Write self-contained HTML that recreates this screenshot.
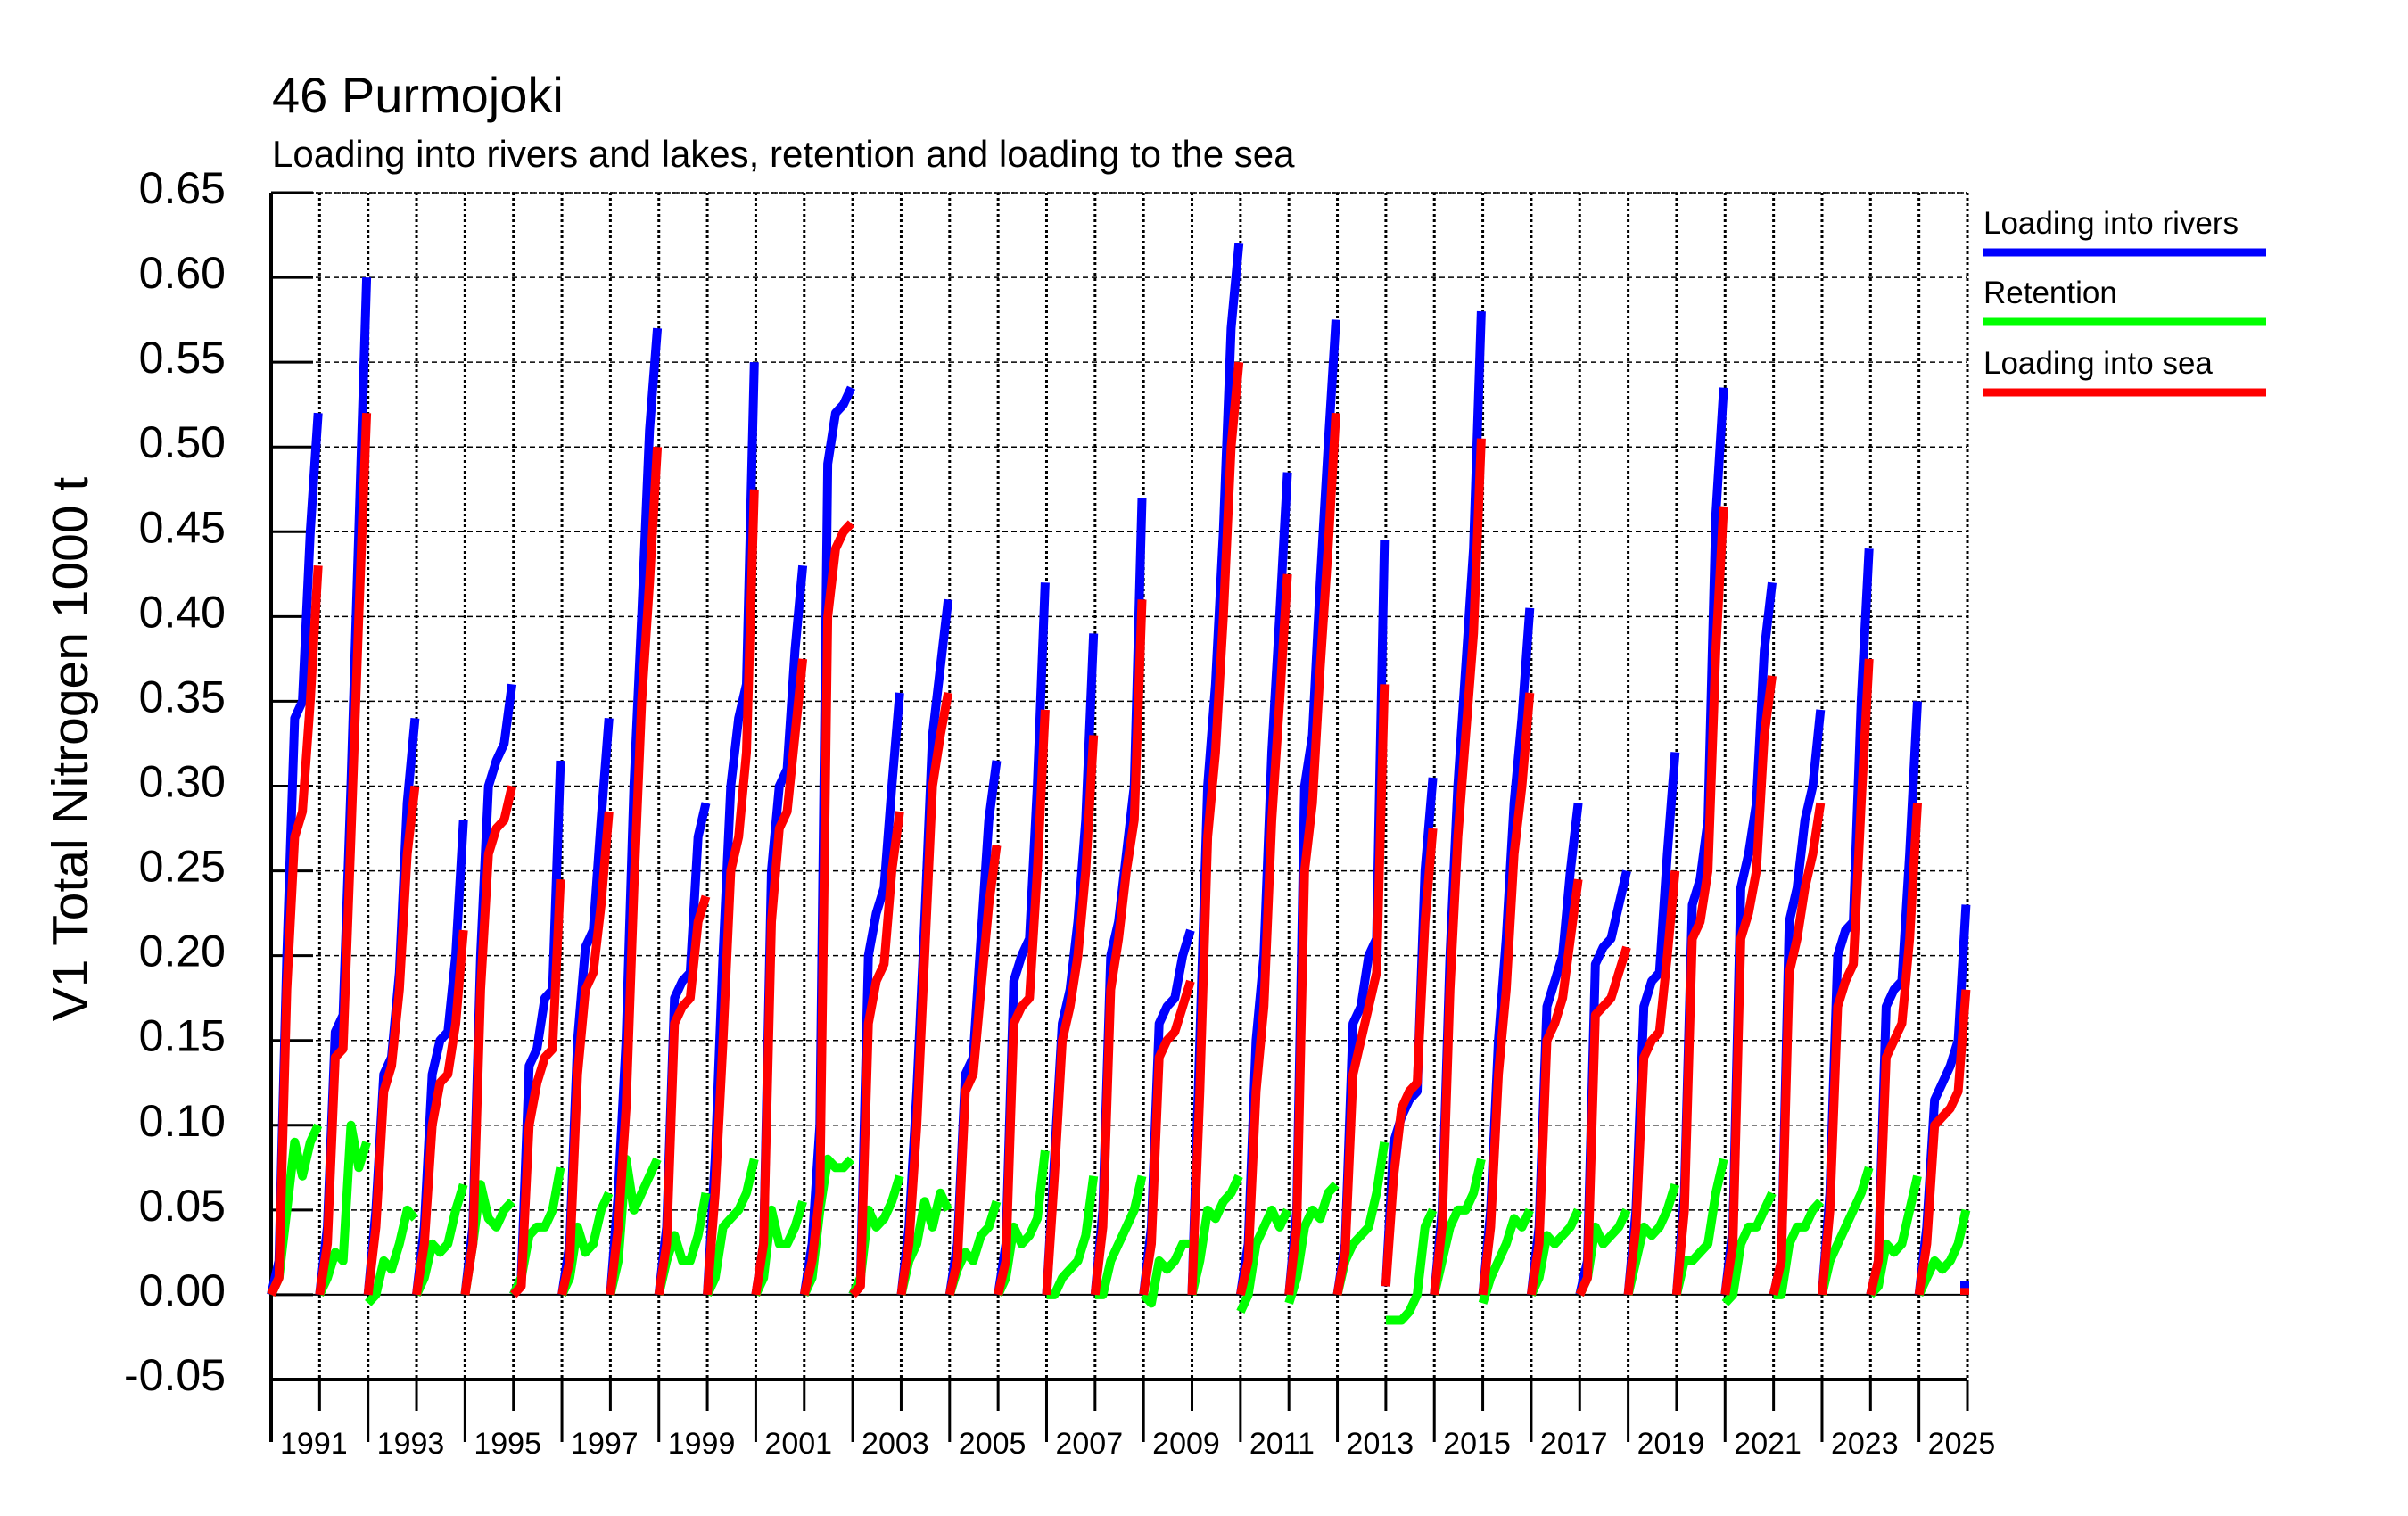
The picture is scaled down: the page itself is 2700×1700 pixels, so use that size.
<!DOCTYPE html>
<html><head><meta charset="utf-8"><style>
html,body{margin:0;padding:0;background:#fff;}
svg{display:block;font-family:"Liberation Sans",sans-serif;}
</style></head><body>
<svg id="chart" width="2700" height="1700" viewBox="0 0 2700 1700" xmlns="http://www.w3.org/2000/svg">
<text x="305" y="126" font-size="56">46 Purmojoki</text>
<text x="305" y="187" font-size="42">Loading into rivers and lakes, retention and loading to the sea</text>
<text transform="translate(98,840) rotate(-90)" text-anchor="middle" font-size="57">V1 Total Nitrogen 1000 t</text>
<g id="grid"></g>
<g id="axes"></g>
<g id="series"></g>
<g>
<text x="2224" y="262" font-size="35">Loading into rivers</text>
<line x1="2224" y1="283" x2="2541" y2="283" stroke="#0000ff" stroke-width="9"/>
<text x="2224" y="340" font-size="35">Retention</text>
<line x1="2224" y1="361" x2="2541" y2="361" stroke="#00ff00" stroke-width="9"/>
<text x="2224" y="419" font-size="35">Loading into sea</text>
<line x1="2224" y1="440" x2="2541" y2="440" stroke="#ff0000" stroke-width="9"/>
</g>
</svg>
<script>
const years = [1990,1991,1992,1993,1994,1995,1996,1997,1998,1999,2000,2001,2002,2003,2004,2005,2006,2007,2008,2009,2010,2011,2012,2013,2014,2015,2016,2017,2018,2019,2020,2021,2022,2023,2024];
const yearFractions = [0,1/6,2/6,3/6,4/6,5/6,1];
const yTicks = [-0.05,0,0.05,0.1,0.15,0.2,0.25,0.3,0.35,0.4,0.45,0.5,0.55,0.6,0.65];
const yTickLabels = ["-0.05","0.00","0.05","0.10","0.15","0.20","0.25","0.30","0.35","0.40","0.45","0.50","0.55","0.60","0.65"];
const xLabelYears = [1991,1993,1995,1997,1999,2001,2003,2005,2007,2009,2011,2013,2015,2017,2019,2021,2023,2025];
const lastYearRivers = [0.008];
const lastYearSea = [0.004];
const riversLoad = [
[0,0.02,0.2,0.34,0.35,0.45,0.52],[0,0.04,0.155,0.165,0.3,0.45,0.6],[0,0.05,0.13,0.14,0.19,0.29,0.34],[0,0.04,0.13,0.15,0.155,0.2,0.28],
[0,0.04,0.2,0.3,0.315,0.325,0.36],[0,0.01,0.135,0.145,0.175,0.18,0.315],[0,0.03,0.15,0.205,0.215,0.28,0.34],[0,0.06,0.15,0.3,0.4,0.51,0.57],
[0,0.04,0.175,0.185,0.19,0.27,0.29],[0,0.08,0.2,0.3,0.34,0.36,0.55],[0,0.03,0.25,0.3,0.31,0.38,0.43],[0,0.03,0.1,0.49,0.52,0.525,0.535],
[0,0.01,0.2,0.225,0.24,0.3,0.355],[0,0.04,0.12,0.22,0.33,0.37,0.41],[0,0.03,0.13,0.14,0.21,0.28,0.315],[0,0.03,0.185,0.2,0.21,0.3,0.42],
[0,0.08,0.16,0.18,0.22,0.28,0.39],[0,0.05,0.2,0.22,0.26,0.3,0.47],[0,0.04,0.16,0.17,0.175,0.2,0.215],[0,0.15,0.3,0.36,0.45,0.57,0.62],
[0,0.03,0.15,0.2,0.32,0.4,0.485],[0,0.05,0.3,0.33,0.42,0.5,0.575],[0,0.03,0.16,0.17,0.2,0.21,0.445],[0.005,0.09,0.105,0.115,0.12,0.25,0.305],
[0,0.05,0.2,0.3,0.37,0.44,0.58],[0,0.05,0.15,0.21,0.29,0.34,0.405],[0,0.04,0.17,0.185,0.2,0.25,0.29],[0,0.02,0.195,0.205,0.21,0.23,0.25],
[0,0.05,0.17,0.185,0.19,0.26,0.32],[0,0.06,0.23,0.245,0.28,0.46,0.535],[0,0.04,0.24,0.26,0.29,0.38,0.42],[0,0.02,0.22,0.24,0.28,0.3,0.345],
[0,0.06,0.2,0.215,0.22,0.35,0.44],[0,0.02,0.17,0.18,0.185,0.26,0.35],[0,0.04,0.115,0.125,0.135,0.15,0.23]];
const retention = [
[0,0.01,0.05,0.09,0.07,0.09,0.1],[0,0.01,0.025,0.02,0.1,0.075,0.09],[-0.005,0,0.02,0.015,0.03,0.05,0.045],[0,0.01,0.03,0.025,0.03,0.05,0.065],
[0,0.03,0.065,0.045,0.04,0.05,0.055],[0,0.01,0.035,0.04,0.04,0.05,0.075],[0,0.01,0.04,0.025,0.03,0.05,0.06],[0,0.02,0.08,0.05,0.06,0.07,0.08],
[0,0.02,0.035,0.02,0.02,0.035,0.06],[0,0.01,0.04,0.045,0.05,0.06,0.08],[0,0.01,0.05,0.03,0.03,0.04,0.055],[0,0.01,0.05,0.08,0.075,0.075,0.08],
[0,0.01,0.05,0.04,0.045,0.055,0.07],[0,0.02,0.03,0.055,0.04,0.06,0.05],[0,0.015,0.025,0.02,0.035,0.04,0.055],[0,0.01,0.04,0.03,0.035,0.045,0.085],
[0,0,0.01,0.015,0.02,0.035,0.07],[0,0,0.02,0.03,0.04,0.05,0.07],[0,-0.005,0.02,0.015,0.02,0.03,0.03],[0,0.02,0.05,0.045,0.055,0.06,0.07],
[-0.01,0,0.03,0.04,0.05,0.04,0.05],[-0.005,0.01,0.04,0.05,0.045,0.06,0.065],[0,0.02,0.03,0.035,0.04,0.06,0.09],[-0.015,-0.015,-0.015,-0.01,0,0.04,0.05],
[0,0.02,0.04,0.05,0.05,0.06,0.08],[-0.005,0.01,0.02,0.03,0.045,0.04,0.05],[0,0.01,0.035,0.03,0.035,0.04,0.05],[0,0.01,0.04,0.03,0.035,0.04,0.05],
[0,0.02,0.04,0.035,0.04,0.05,0.065],[0,0.02,0.02,0.025,0.03,0.06,0.08],[-0.005,0,0.03,0.04,0.04,0.05,0.06],[0,0,0.03,0.04,0.04,0.05,0.055],
[0,0.02,0.03,0.04,0.05,0.06,0.075],[0,0.005,0.03,0.025,0.03,0.05,0.07],[0,0.01,0.02,0.015,0.02,0.03,0.05]];
const seaLoad = [
[0,0.01,0.18,0.27,0.285,0.35,0.43],[0,0.03,0.14,0.145,0.27,0.4,0.52],[0,0.04,0.12,0.135,0.18,0.26,0.3],[0,0.03,0.1,0.125,0.13,0.16,0.215],
[0,0.03,0.18,0.26,0.275,0.28,0.3],[0,0.005,0.1,0.125,0.14,0.145,0.245],[0,0.02,0.13,0.18,0.19,0.23,0.285],[0,0.04,0.11,0.24,0.35,0.42,0.5],
[0,0.03,0.16,0.17,0.175,0.22,0.235],[0,0.06,0.15,0.25,0.27,0.32,0.475],[0,0.03,0.22,0.275,0.285,0.33,0.375],[0,0.02,0.06,0.4,0.44,0.45,0.455],
[0,0.005,0.16,0.185,0.195,0.25,0.285],[0,0.03,0.1,0.2,0.3,0.33,0.355],[0,0.02,0.12,0.13,0.18,0.23,0.265],[0,0.02,0.16,0.17,0.175,0.25,0.345],
[0,0.07,0.15,0.17,0.2,0.25,0.33],[0,0.04,0.18,0.21,0.25,0.28,0.41],[0,0.03,0.14,0.15,0.155,0.17,0.185],[0,0.12,0.27,0.32,0.4,0.5,0.55],
[0,0.02,0.12,0.17,0.28,0.35,0.425],[0,0.04,0.25,0.29,0.37,0.44,0.52],[0,0.025,0.13,0.15,0.17,0.19,0.36],[0.005,0.07,0.11,0.12,0.125,0.22,0.275],
[0,0.04,0.18,0.27,0.33,0.39,0.505],[0,0.04,0.13,0.18,0.26,0.3,0.355],[0,0.03,0.15,0.16,0.175,0.21,0.245],[0,0.01,0.165,0.17,0.175,0.19,0.205],
[0,0.04,0.14,0.15,0.155,0.2,0.25],[0,0.05,0.21,0.22,0.25,0.38,0.465],[0,0.03,0.21,0.225,0.25,0.33,0.365],[0,0.02,0.19,0.21,0.24,0.26,0.29],
[0,0.05,0.17,0.185,0.195,0.29,0.375],[0,0.02,0.14,0.15,0.16,0.21,0.29],[0,0.03,0.1,0.105,0.11,0.12,0.18]];

const NS = "http://www.w3.org/2000/svg";
const X0 = 304, X1 = 2206, Y0 = 216, Y1 = 1547;
function xScale(t){ return X0 + (t - 1990) * (X1 - X0) / 35; }
function yScale(v){ return Y1 - (v + 0.05) * (Y1 - Y0) / 0.70; }
function mk(tag, attrs, parent){
  const e = document.createElementNS(NS, tag);
  for (const k in attrs) e.setAttribute(k, attrs[k]);
  parent.appendChild(e); return e;
}
const grid = document.getElementById('grid');
const axes = document.getElementById('axes');
const series = document.getElementById('series');

yTicks.forEach((v, i) => {
  const y = yScale(v);
  if (i > 0) {
    const g = mk('line', {x1: X0, y1: y, x2: X1, y2: y, stroke: '#000', 'stroke-width': v === 0 ? 2 : 1.5, 'stroke-dasharray': v === 0 ? 'none' : '6,4'}, grid);
    
    
  }
  const tk = mk('line', {x1: X0, y1: y, x2: X0 + 47, y2: y, stroke: '#000', 'stroke-width': 3}, axes);
  
  
  const t = mk('text', {x: 253, y: y + 12, 'text-anchor': 'end', 'font-size': 50}, axes);
  t.textContent = yTickLabels[i];
  
  
});
for (let yr = 1991; yr <= 2025; yr++) {
  const x = xScale(yr);
  const g = mk('line', {x1: x, y1: Y0, x2: x, y2: Y1, stroke: '#000', 'stroke-width': 3, 'stroke-dasharray': '3,3'}, grid);
  
  
}
for (let yr = 1990; yr <= 2025; yr++) {
  const x = xScale(yr);
  const long = (yr % 2 === 0);
  const tk = mk('line', {x1: x, y1: Y1, x2: x, y2: long ? 1617 : 1582, stroke: '#000', 'stroke-width': 3}, axes);
  
  
}
const topB = mk('line', {x1: X0, y1: Y0, x2: X1, y2: Y0, stroke: '#000', 'stroke-width': 1.5, 'stroke-dasharray': '3,2'}, axes);


const leftAx = mk('line', {x1: X0, y1: Y0, x2: X0, y2: 1617, stroke: '#000', 'stroke-width': 4}, axes);


const botAx = mk('line', {x1: X0, y1: Y1, x2: X1, y2: Y1, stroke: '#000', 'stroke-width': 4}, axes);


xLabelYears.forEach(yr => {
  const t = mk('text', {x: xScale(yr - 1) + 10, y: 1630, 'font-size': 34}, axes);
  t.textContent = String(yr);
  
  
});

function drawSeries(data, color, name){
  data.forEach((vals, i) => {
    const pts = vals.map((v, j) => xScale(years[i] + yearFractions[j] * 0.97).toFixed(1) + ',' + yScale(v).toFixed(1)).join(' ');
    const p = mk('polyline', {points: pts, fill: 'none', stroke: color, 'stroke-width': 10, 'stroke-linejoin': 'round'}, series);
    
    
  });
}
drawSeries(riversLoad, '#0000ff', 'rivers-line');
drawSeries(retention, '#00ff00', 'retention-line');
drawSeries(seaLoad, '#ff0000', 'sea-line');
function drawLast(vals, color, name){
  const x = xScale(2025);
  const p = mk('line', {x1: x - 3, y1: yScale(0), x2: x - 3, y2: yScale(vals[0]), stroke: color, 'stroke-width': 10}, series);
  
  
}
drawLast(lastYearRivers, '#0000ff', 'rivers-line-2025');
drawLast(lastYearSea, '#ff0000', 'sea-line-2025');
</script>
</body></html>
